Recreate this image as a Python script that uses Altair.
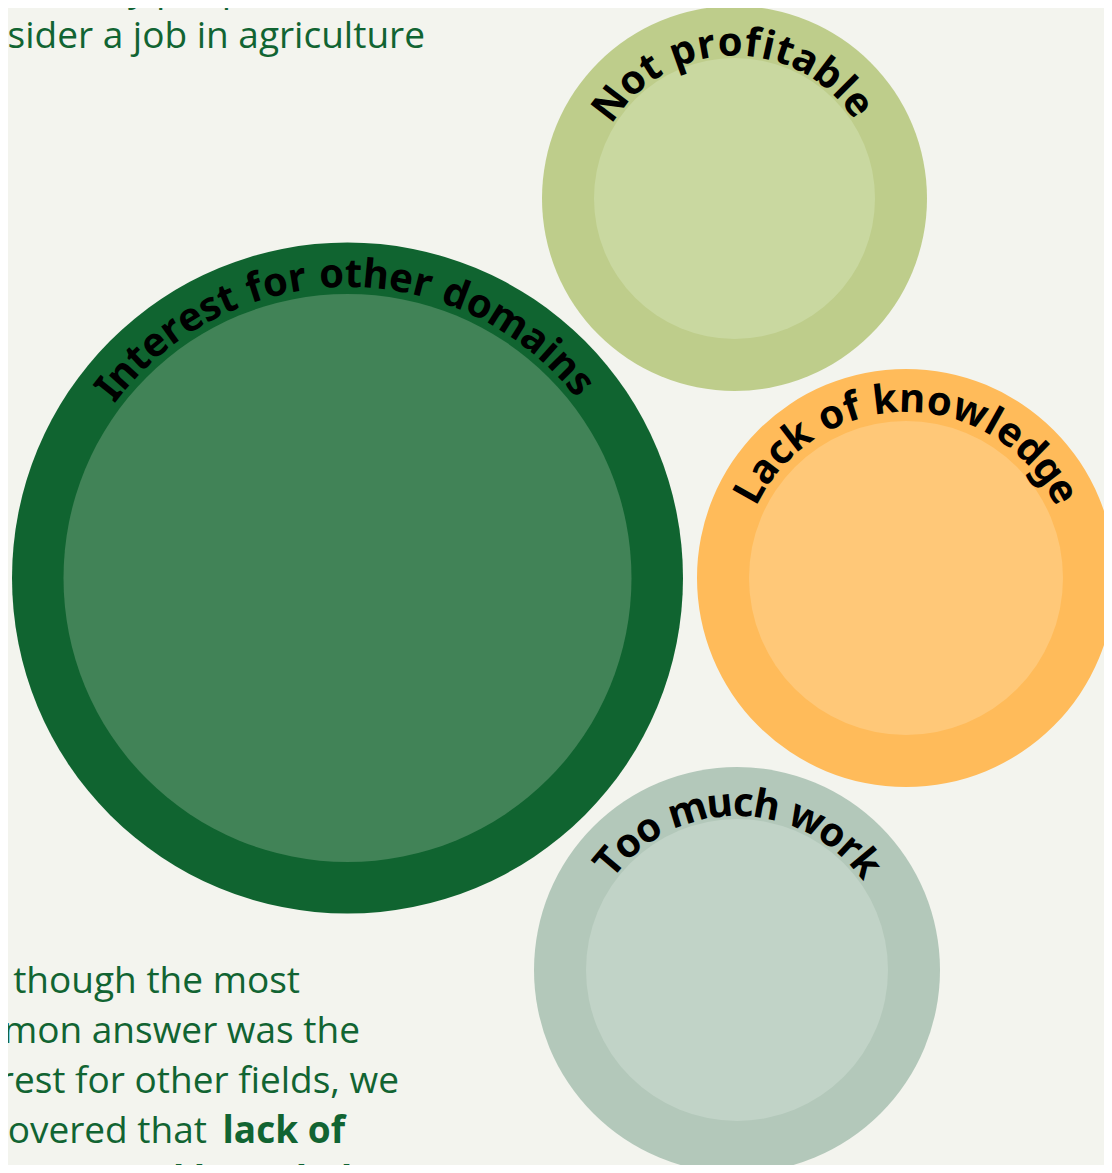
import math
import altair as alt
import pandas as pd

# ---------------- data ----------------
categories = ["Interest for other domains", "Not profitable", "Lack of knowledge", "Too much work"]
outer_radius = [335.5, 192.5, 209.0, 203.0]
inner_radius = [284.0, 140.5, 157.0, 151.0]

# layout of the packed bubbles (picture pixels)
center_x = [347.5, 734.5, 906.0, 737.0]
center_y = [578.0, 198.5, 578.0, 970.0]
outer_colors = ["#106430", "#becd8b", "#ffbb5a", "#b3c8ba"]
inner_colors = ["#418357", "#c9d8a0", "#ffc878", "#c1d3c7"]
label_radius = [291.0, 143.0, 166.0, 154.0]
label_start_deg = [-51.7, -52.6, -60.8, -49.7]
label_end_deg = [50.0, 52.3, 60.8, 50.4]

# paragraph text
top_lines = ["The reasons why people don't", "consider a job in agriculture"]
top_line_right = [373, 425]
top_line_base = [1, 48]
bottom_lines = ["Even though the most", "common answer was the", "interest for other fields, we", "discovered that"]
bottom_line_right = [300, 360, 399, 207]
bottom_line_base = [993, 1043, 1093, 1143]
bold_lines = ["lack of", "general knowledge"]
bold_line_right = [345, 395]
bold_line_base = [1143, 1193]

BG = "#f3f4ee"
TEXT_GREEN = "#116432"
W, H = 1096, 1157
X0, Y0 = 8, 8

# approximate advance widths (em) for a bold humanist sans
cw = {' ': 0.26, 'I': 0.34, 'n': 0.66, 't': 0.43, 'e': 0.6, 'r': 0.47, 's': 0.5,
      'f': 0.4, 'o': 0.64, 'h': 0.66, 'd': 0.66, 'm': 1.0, 'a': 0.6, 'i': 0.32,
      'N': 0.83, 'p': 0.66, 'b': 0.66, 'l': 0.32, 'L': 0.56, 'c': 0.52, 'k': 0.62,
      'w': 0.88, 'g': 0.58, 'T': 0.6, 'u': 0.66}

# ---------------- tables ----------------
bubbles = []
for i, c in enumerate(categories):
    bubbles.append({"cat": c, "x": center_x[i], "y": center_y[i], "size": (2 * outer_radius[i]) ** 2,
                    "color": outer_colors[i], "layer": 0})
    bubbles.append({"cat": c, "x": center_x[i], "y": center_y[i], "size": (2 * inner_radius[i]) ** 2,
                    "color": inner_colors[i], "layer": 1})
bub_df = pd.DataFrame(bubbles)

chars = []
for i, label in enumerate(categories):
    sp = 0.05
    pos = []
    acc = 0.0
    for ch in label:
        w = cw.get(ch, 0.6)
        pos.append(acc + w / 2)
        acc += w + sp
    p0, p1 = pos[0], pos[-1]
    for ch, p in zip(label, pos):
        if ch == ' ':
            continue
        th = label_start_deg[i] + (p - p0) / (p1 - p0) * (label_end_deg[i] - label_start_deg[i])
        r = label_radius[i]
        chars.append({"ch": ch,
                      "x": center_x[i] + r * math.sin(math.radians(th)),
                      "y": center_y[i] - r * math.cos(math.radians(th)),
                      "angle": th % 360})
char_df = pd.DataFrame(chars)

reg_df = pd.DataFrame({"t": top_lines + bottom_lines,
                       "x": top_line_right + bottom_line_right,
                       "y": top_line_base + bottom_line_base})
bold_df = pd.DataFrame({"t": bold_lines, "x": bold_line_right, "y": bold_line_base})

xs = alt.Scale(domain=[X0, X0 + W], range=[0, W])
ys = alt.Scale(domain=[Y0, Y0 + H], range=[0, H])
X = alt.X("x:Q", scale=xs, axis=None)
Y = alt.Y("y:Q", scale=ys, axis=None)

circles = alt.Chart(bub_df).mark_circle(opacity=1, clip=True, strokeWidth=0).encode(
    x=X, y=Y,
    size=alt.Size("size:Q", scale=None, legend=None),
    color=alt.Color("color:N", scale=None, legend=None),
    order=alt.Order("layer:Q"),
)

letters = alt.Chart(char_df).mark_text(
    font="Noto Sans", fontWeight="bold", fontSize=40, color="#000000",
    align="center", baseline="alphabetic", clip=True,
).encode(x=X, y=Y, text="ch:N", angle=alt.Angle("angle:Q", scale=None))

para = alt.Chart(reg_df).mark_text(
    font="Open Sans", fontWeight="normal", fontSize=37, color=TEXT_GREEN,
    align="right", baseline="alphabetic", clip=True,
).encode(x=X, y=Y, text="t:N")

para_bold = alt.Chart(bold_df).mark_text(
    font="Open Sans", fontWeight="bold", fontSize=37, color=TEXT_GREEN,
    align="right", baseline="alphabetic", clip=True,
).encode(x=X, y=Y, text="t:N")

chart = alt.layer(circles, letters, para, para_bold).properties(
    width=W, height=H, padding=0, autosize=alt.AutoSizeParams(type="none"),
    background=BG,
).configure_view(stroke=None, fill=BG)

chart.save("out.html", embed_options={"renderer": "svg", "actions": False})
